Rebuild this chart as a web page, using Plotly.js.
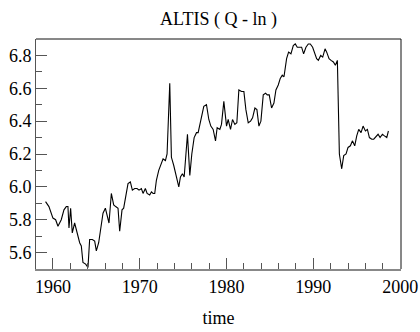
<!DOCTYPE html>
<html><head><meta charset="utf-8">
<script src="https://cdn.plot.ly/plotly-3.0.1.min.js"></script>
<style>html,body{margin:0;padding:0;background:#fff;}#chart{width:420px;height:332px;}</style>
</head><body><div id="chart"></div>
<script>
const chartTitle = "ALTIS ( Q - ln )";
const xLabel = "time";
const time = [
1959.15,1959.54,1960.0,1960.31,1960.58,1960.96,1961.27,1961.54,1961.73,1961.85,
1962.04,1962.23,1962.5,1962.77,1963.08,1963.27,1963.46,1963.77,1964.04,1964.23,
1964.54,1964.81,1965.0,1965.27,1965.58,1965.77,1966.04,1966.23,1966.46,1966.73,
1967.0,1967.23,1967.5,1967.69,1967.96,1968.15,1968.38,1968.65,1968.92,1969.15,
1969.42,1969.69,1969.92,1970.19,1970.38,1970.65,1970.85,1971.15,1971.35,1971.54,
1971.73,1971.92,1972.19,1972.5,1972.69,1972.96,1973.15,1973.46,1973.65,1973.92,
1974.23,1974.5,1974.69,1974.92,1975.12,1975.5,1975.77,1976.0,1976.27,1976.54,
1976.73,1976.92,1977.15,1977.38,1977.69,1977.96,1978.19,1978.46,1978.73,1978.92,
1979.23,1979.42,1979.69,1980.0,1980.19,1980.46,1980.69,1980.96,1981.19,1981.42,
1981.73,1982.0,1982.23,1982.5,1982.77,1983.0,1983.27,1983.5,1983.73,1983.96,
1984.23,1984.5,1984.69,1984.92,1985.19,1985.46,1985.69,1985.96,1986.19,1986.42,
1986.62,1986.92,1987.15,1987.42,1987.69,1987.92,1988.15,1988.38,1988.65,1988.88,
1989.15,1989.42,1989.65,1989.92,1990.15,1990.38,1990.58,1990.85,1991.08,1991.35,
1991.54,1991.81,1992.04,1992.31,1992.54,1992.77,1993.0,1993.27,1993.5,1993.77,
1994.0,1994.27,1994.5,1994.77,1995.0,1995.23,1995.5,1995.73,1996.0,1996.23,
1996.46,1996.73,1996.96,1997.23,1997.46,1997.69,1997.96,1998.19,1998.46,1998.65
];
const altis = [
5.91,5.88,5.81,5.80,5.76,5.80,5.86,5.88,5.88,5.75,
5.87,5.72,5.78,5.72,5.66,5.64,5.54,5.53,5.51,5.68,
5.68,5.67,5.61,5.66,5.76,5.84,5.87,5.83,5.78,5.96,
5.89,5.88,5.87,5.73,5.86,5.87,5.94,6.02,6.03,5.98,
5.99,5.99,5.98,5.99,5.96,5.99,5.96,5.95,5.97,5.96,
5.96,6.04,6.10,6.14,6.17,6.16,6.20,6.63,6.18,6.13,
6.06,6.00,6.06,6.08,6.06,6.32,6.07,6.20,6.30,6.33,
6.33,6.38,6.42,6.49,6.50,6.41,6.37,6.35,6.28,6.36,
6.35,6.38,6.52,6.37,6.41,6.35,6.41,6.38,6.39,6.59,
6.58,6.58,6.47,6.39,6.40,6.42,6.48,6.47,6.37,6.40,
6.56,6.57,6.56,6.56,6.48,6.51,6.59,6.62,6.66,6.68,
6.67,6.78,6.82,6.81,6.86,6.87,6.85,6.85,6.85,6.81,
6.85,6.87,6.87,6.85,6.81,6.78,6.77,6.80,6.79,6.84,
6.82,6.78,6.77,6.76,6.74,6.77,6.20,6.11,6.19,6.20,
6.24,6.25,6.28,6.25,6.31,6.35,6.33,6.37,6.34,6.35,
6.30,6.29,6.29,6.31,6.32,6.30,6.32,6.31,6.30,6.34
];
const fam = "Liberation Serif, Times New Roman, serif";
Plotly.newPlot('chart', [{
  x: time, y: altis, type: 'scatter', mode: 'lines',
  line: {color: '#000', width: 1.1}, hoverinfo: 'skip'
}], {
  width: 420, height: 332,
  margin: {l: 36, r: 19, t: 39, b: 63},
  paper_bgcolor: '#fff', plot_bgcolor: '#fff',
  font: {family: fam, size: 18, color: '#000'},
  showlegend: false,
  title: {text: chartTitle, font: {family: fam, size: 18, color: '#000'}, xref: 'paper', x: 0.5, xanchor: 'center', yref: 'container', y: 0.945, yanchor: 'middle'},
  xaxis: {
    range: [1958.05, 2000.1], dtick: 10, tick0: 1960,
    ticks: 'inside', ticklen: 11, tickwidth: 1, tickcolor: '#555',
    minor: {dtick: 2, tick0: 1960, ticks: 'inside', ticklen: 6, tickwidth: 1, tickcolor: '#555'},
    showgrid: false, zeroline: false,
    showline: true, linecolor: '#888', linewidth: 2,
    tickfont: {family: fam, size: 18, color: '#000'},
    title: {text: xLabel, font: {family: fam, size: 18, color: '#000'}, standoff: 16}
  },
  yaxis: {
    range: [5.5, 6.9], dtick: 0.2, tick0: 5.6, tickformat: '.1f',
    ticks: 'inside', ticklen: 11, tickwidth: 1, tickcolor: '#555',
    minor: {dtick: 0.1, tick0: 5.5, ticks: 'inside', ticklen: 6, tickwidth: 1, tickcolor: '#555'},
    showgrid: false, zeroline: false,
    showline: true, linecolor: '#555', linewidth: 1,
    tickfont: {family: fam, size: 18, color: '#000'}
  },
  shapes: [
    {type: 'line', xref: 'paper', yref: 'paper', x0: 0, x1: 1, y0: 1, y1: 1, line: {color: '#111', width: 1}},
    {type: 'line', xref: 'paper', yref: 'paper', x0: 1, x1: 1, y0: 0, y1: 1, line: {color: '#111', width: 1}}
  ]
}, {staticPlot: true, displayModeBar: false});
</script></body></html>
